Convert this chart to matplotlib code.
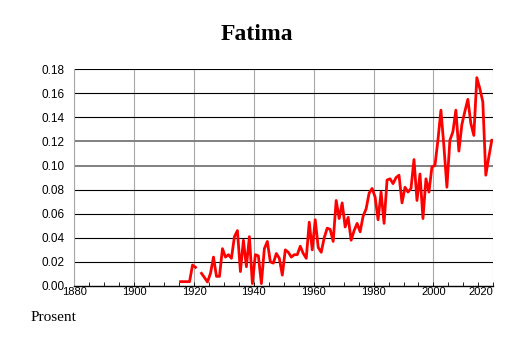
import numpy as np
import matplotlib
matplotlib.use("Agg")
import matplotlib.pyplot as plt

# Share of population named Fatima (percent)
years = list(range(1915, 2020))
values = [
    0.0036, 0.0036, 0.0036, 0.0036, 0.0174, 0.0155, np.nan, 0.0105, 0.007, 0.0033,   # 1915-1924
    0.0105, 0.024, 0.008, 0.008, 0.031, 0.024, 0.026, 0.023, 0.041, 0.046,            # 1925-1934
    0.012, 0.038, 0.016, 0.041, 0.002, 0.026, 0.025, 0.002, 0.031, 0.037,             # 1935-1944
    0.020, 0.019, 0.027, 0.023, 0.009, 0.030, 0.028, 0.024, 0.026, 0.026,             # 1945-1954
    0.033, 0.027, 0.023, 0.053, 0.030, 0.055, 0.032, 0.028, 0.040, 0.048,             # 1955-1964
    0.047, 0.037, 0.071, 0.056, 0.069, 0.049, 0.057, 0.038, 0.046, 0.052,             # 1965-1974
    0.045, 0.058, 0.064, 0.077, 0.081, 0.074, 0.055, 0.078, 0.052, 0.088,             # 1975-1984
    0.089, 0.085, 0.090, 0.092, 0.069, 0.082, 0.078, 0.081, 0.105, 0.071,             # 1985-1994
    0.093, 0.056, 0.089, 0.078, 0.099, 0.100, 0.121, 0.146, 0.116, 0.082,             # 1995-2004
    0.121, 0.128, 0.146, 0.112, 0.134, 0.145, 0.155, 0.135, 0.125, 0.173,             # 2005-2014
    0.164, 0.153, 0.092, 0.107, 0.121,                                                # 2015-2019
]
x_ticks = list(range(1880, 2021, 20))
y_ticks = [0.00, 0.02, 0.04, 0.06, 0.08, 0.10, 0.12, 0.14, 0.16, 0.18]

fig = plt.figure(figsize=(5.14, 3.43), dpi=100)
ax = fig.add_axes([0.1446, 0.1662, 0.8151, 0.632])

# grid
for xt in x_ticks:
    ax.axvline(xt, color="#a8a8a8", lw=0.8, zorder=1)
for yt in y_ticks[1:]:
    if yt in (0.10, 0.12):
        ax.axhline(yt, color="#808080", lw=1.4, zorder=1)
    else:
        ax.axhline(yt, color="black", lw=0.8, zorder=1)

# plot at mid-year
ax.plot(np.array(years) + 0.5, values, color="red", lw=2.0, zorder=3)

ax.set_xlim(1880, 2020)
ax.set_ylim(0, 0.18)
ax.set_xticks(x_ticks)
ax.set_xticks(range(1880, 2021, 5), minor=True)
ax.set_yticks(y_ticks)
ax.set_yticklabels([f"{v:.2f}" for v in y_ticks], fontsize=8.5, family="Liberation Sans")
ax.set_xticklabels([str(v) for v in x_ticks], fontsize=8, family="Liberation Sans")
ax.get_xticklabels()[-1].set_horizontalalignment("right")
ax.tick_params(axis="x", which="both", direction="in", length=3, width=0.6, pad=1)
ax.tick_params(axis="y", length=0, pad=7)

for s in ["top", "right"]:
    ax.spines[s].set_visible(False)
ax.spines["left"].set_color("#a8a8a8")
ax.spines["left"].set_linewidth(0.8)
ax.spines["bottom"].set_linewidth(1.0)

fig.text(0.5, 0.9, "Fatima", ha="center", va="center", fontsize=17,
         fontweight="bold", family="Liberation Serif")
fig.text(0.06, 0.075, "Prosent", ha="left", va="center", fontsize=11,
         family="Liberation Serif")

plt.savefig("out.png", dpi=100)
